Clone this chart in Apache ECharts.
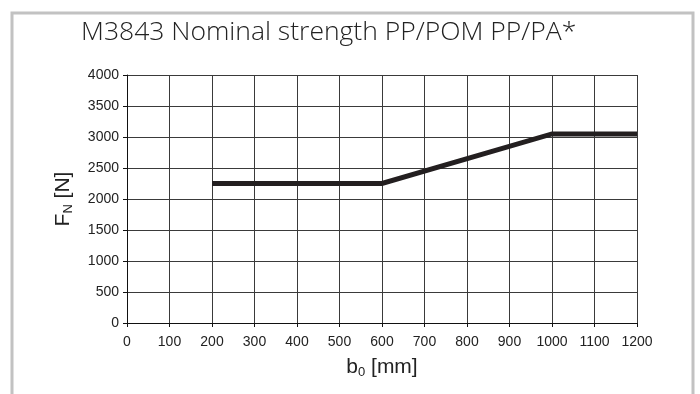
<!DOCTYPE html>
<html>
<head>
<meta charset="utf-8">
<script src="https://cdn.jsdelivr.net/npm/echarts@6/dist/echarts.min.js"></script>
<style>
  html, body { margin: 0; padding: 0; background: #fff; }
  #chart { width: 700px; height: 394px; }
</style>
</head>
<body>
<div id="chart"></div>
<script>
// Nominal strength curve: width b0 [mm] vs. force FN [N]
const widthMm = [200, 600, 1000, 1200];
const forceN = [2250, 2250, 3050, 3050];
const xTicks = { min: 0, max: 1200, step: 100 };
const yTicks = { min: 0, max: 4000, step: 500 };

const chart = echarts.init(document.getElementById('chart'));
const sans = 'Liberation Sans, Arial, sans-serif';
const gridLine = { show: true, lineStyle: { color: '#3a3a3a', width: 1 } };
const axisLine = { show: true, lineStyle: { color: '#111', width: 1 } };
const labelFont = { color: '#222', fontSize: 14, fontFamily: sans, formatter: v => String(v) };
const nameRich = {
  b: { fontSize: 21, color: '#222', fontFamily: sans },
  s: { fontSize: 13, color: '#222', fontFamily: sans, verticalAlign: 'bottom', padding: [10, 0, 0, 0] }
};

chart.setOption({
  animation: false,
  title: {
    text: 'M3843 Nominal strength PP/POM PP/PA*',
    left: 76,
    top: 14,
    textStyle: { fontFamily: 'Open Sans', fontWeight: 300, fontSize: 26.5, color: '#222' }
  },
  graphic: [{
    type: 'polyline',
    shape: { points: [[12, 394], [12, 13], [693, 13], [693, 394]] },
    style: { stroke: '#c2c2c2', lineWidth: 3, fill: null }
  }],
  grid: { left: 127, right: 63, top: 75, bottom: 71 },
  xAxis: {
    type: 'value',
    min: xTicks.min, max: xTicks.max, interval: xTicks.step,
    axisLine: axisLine,
    axisTick: { show: true, length: 4, lineStyle: { color: '#111' } },
    splitLine: gridLine,
    axisLabel: Object.assign({ margin: 12 }, labelFont),
    name: '{b|b}{s|0}{b| [mm]}',
    nameLocation: 'middle',
    nameGap: 33,
    nameTextStyle: { rich: nameRich }
  },
  yAxis: {
    type: 'value',
    min: yTicks.min, max: yTicks.max, interval: yTicks.step,
    axisLine: axisLine,
    axisTick: { show: true, length: 4, lineStyle: { color: '#111' } },
    splitLine: gridLine,
    axisLabel: Object.assign({ margin: 8 }, labelFont),
    name: '{b|F}{s|N}{b| [N]}',
    nameLocation: 'middle',
    nameGap: 52,
    nameTextStyle: { rich: nameRich }
  },
  series: [{
    type: 'line',
    data: widthMm.map((w, i) => [w, forceN[i]]),
    symbol: 'none',
    lineStyle: { color: '#231f20', width: 5, join: 'miter' }
  }]
});
</script>
</body>
</html>
